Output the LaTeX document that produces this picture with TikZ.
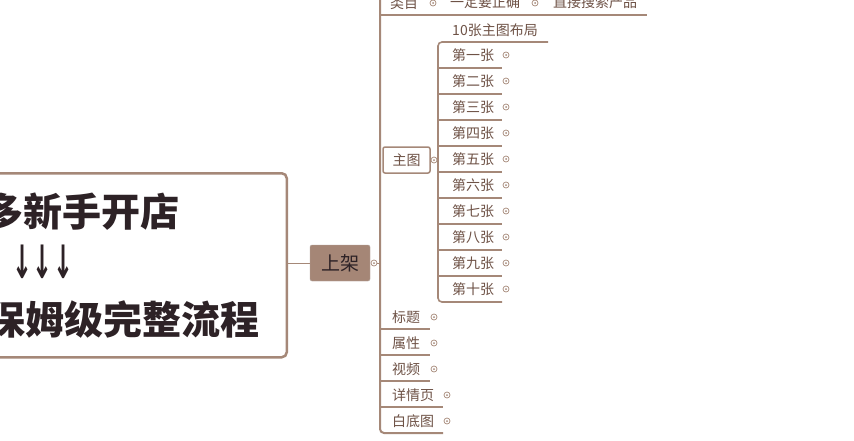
\documentclass[tikz,border=0pt]{standalone}
\usepackage{fontspec}
\newfontfamily\cjk{Noto Sans CJK SC}
\newfontfamily\djv{DejaVu Sans}
\definecolor{lnc}{HTML}{A58878}
\definecolor{txc}{HTML}{6E5246}
\definecolor{dkc}{HTML}{2D2226}
\definecolor{fbc}{HTML}{A58676}
\begin{document}
\begin{tikzpicture}[x=1pt,y=-1pt,
  lnk/.style={draw=lnc, line width=1.5pt},
  trunk/.style={draw=lnc, line width=2pt, rounded corners=4pt},
  lbl/.style={text=txc, font=\cjk\fontsize{14}{16}\selectfont, inner sep=0pt},
  big/.style={text=dkc, font=\cjk\bfseries\fontsize{39}{42}\selectfont, inner sep=0pt, anchor=west},
  dotc/.style={circle, draw=lnc, line width=0.7pt, minimum size=6pt, inner sep=0pt, fill=white,
    path picture={\fill[lnc] (path picture bounding box.center) circle (1pt);}},
]
\useasboundingbox (0,0) rectangle (854,440);
\fill[white] (0,0) rectangle (854,440);

% central box
\node[draw=lnc, line width=2.5pt, rounded corners=5pt, fill=white, minimum width=310pt, minimum height=184pt, anchor=north east, inner sep=0pt] (box) at (288,172) {};
\node[big] (t1) at (-16,212) {多新手开店};
\node[text=dkc, font=\djv\bfseries\fontsize{46}{48}\selectfont, inner sep=0pt, anchor=west] (t2) at (12,262) {\scalebox{0.52}[1]{↓\kern0.02em↓\kern0.02em↓}};
\node[big] (t3) at (-14,320) {保姆级完整流程};

% 上架
\node[fill=fbc, draw=fbc!80!black!60, minimum width=60pt, minimum height=36pt, inner sep=0pt, rounded corners=2pt,
  text=dkc, font=\cjk\fontsize{19}{21}\selectfont] (sj) at (340,263) {上架};
\draw[lnk, line width=1pt] (box.east |- sj.west) -- (sj.west);
\node[dotc] (csj) at (374,263) {};
\coordinate (tr1top) at (380,-5);
\coordinate (tr1bot) at (380,433);
\coordinate (bdtend) at (443,433);
\draw[lnk, line width=1pt] (csj) -- (380,263);
\draw[trunk] (tr1top) -- (tr1bot) -- (bdtend);

% top row
\node[lbl] (lm) at (404,3) {类目};
\node[dotc] (clm) at (433,3) {};
\node[lbl] (yd) at (485,2) {一定要正确};
\node[dotc] (cyd) at (535,3) {};
\node[lbl] (zj) at (595,2) {直接搜索产品};
\coordinate (topul) at (647,15);
\draw[lnk] (380,15) -- (topul);

% 主图
\node[draw=lnc, line width=1.5pt, rounded corners=2pt, minimum width=47pt, minimum height=26pt, inner sep=0pt,
  text=txc, font=\cjk\fontsize{14}{16}\selectfont] (zt) at (406.5,160) {主图};
\node[dotc] (czt) at (434,160) {};
\draw[lnk, line width=1pt] (czt) -- (438,160);
\coordinate (tr2a) at (548,42);
\coordinate (tr2b) at (438,42);
\coordinate (tr2c) at (438,302);
\coordinate (tr2d) at (502,302);
\draw[trunk, line width=1.6pt] (tr2a) -- (tr2b) -- (tr2c) -- (tr2d);
\node[lbl] (bj) at (495,30) {10张主图布局};

\foreach \n [count=\i from 0] in {一,二,三,四,五,六,七,八,九,十}{
  \pgfmathsetmacro{\yy}{55+26*\i}
  \node[lbl] (p\i) at (473,\yy) {第\n 张};
  \node[dotc] (cp\i) at (506,\yy) {};
  \ifnum\i<9
    \draw[lnk] (438,\yy+13) -- (502,\yy+13);
  \fi
}

% lower children
\foreach \t/\xc/\xe [count=\i from 0] in {标题/406/430, 属性/406/430, 视频/406/430, 详情页/413/443, 白底图/413/443}{
  \pgfmathsetmacro{\yy}{317+26*\i}
  \node[lbl] (q\i) at (\xc,\yy) {\t};
  \node[dotc] (cq\i) at (\xe+4,\yy) {};
  \ifnum\i<4
    \draw[lnk] (380,\yy+12) -- (\xe,\yy+12);
  \fi
}
\end{tikzpicture}
\end{document}
